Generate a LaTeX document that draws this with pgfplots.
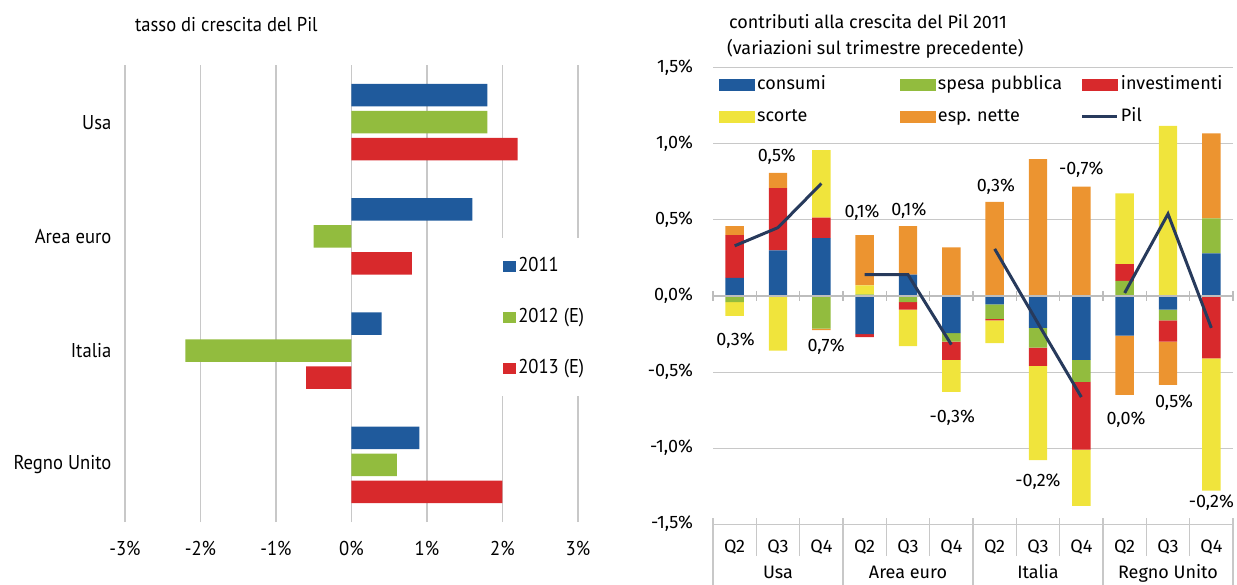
\documentclass[border=0pt]{standalone}
\usepackage{fontspec}
\setmainfont{Fira Sans}
\newfontfamily\condfont[FakeStretch=0.93]{PT Sans}
\usepackage{pgfplots}
\usepackage{pgfplotstable}
\pgfplotsset{compat=1.18}

\definecolor{cblue}{HTML}{1F5A9C}
\definecolor{cgreen}{HTML}{92BC3E}
\definecolor{cred}{HTML}{D8292C}
\definecolor{cyellow}{HTML}{F0E43C}
\definecolor{corange}{HTML}{EC9430}
\definecolor{cpil}{HTML}{273A5C}
\definecolor{cgrid}{HTML}{C8C8C8}
\definecolor{czero}{HTML}{BDBDBD}

\pgfplotstableread{
x cons spesa inv scorte esp
0  0      -0.04  0      -0.09  0
1  0      0      0      -0.36  0
2  0      -0.215 0      0      -0.01
3  -0.25  0      -0.02  0      0
4  0      -0.04  -0.05  -0.24  0
5  -0.245 -0.055 -0.12  -0.21  0
6  -0.055 -0.095 -0.01  -0.15  0
7  -0.21  -0.13  -0.12  -0.62  0
8  -0.42  -0.145 -0.445 -0.37  0
9  -0.26  0      0      0      -0.39
10 -0.09  -0.07  -0.14  0      -0.285
11 0      0      -0.41  -0.87  0
}\negdata

\pgfplotstableread{
x cons spesa inv scorte esp
0  0.12 0    0.28  0     0.06
1  0.30 0    0.41  0     0.10
2  0.38 0    0.135 0.445 0
3  0    0.01 0     0.06  0.33
4  0.14 0    0     0     0.32
5  0    0    0     0     0.32
6  0    0    0     0     0.62
7  0    0    0     0     0.90
8  0    0    0     0     0.72
9  0    0.10 0.11  0.465 0
10 0    0    0     1.12  0
11 0.28 0.23 0     0     0.56
}\posdata

\pgfplotsset{
  rbase/.style={at={(356.5pt,30pt)}, anchor=south west, scale only axis,
    width=260pt, height=228pt, xmin=-0.5, xmax=11.5, ymin=-1.5, ymax=1.5,
    axis line style={draw=none}, tick style={draw=none}, clip=false,
    font=\fontsize{9}{11}\selectfont},
}

\begin{document}
\begin{tikzpicture}
\path[use as bounding box] (0,0) rectangle (618.5pt,292pt);

% ---------------- left chart ----------------
\node[anchor=base west, font=\condfont\fontsize{10}{12}\selectfont] at (64pt,276pt) {tasso di crescita del Pil};

\begin{axis}[
  at={(62.5pt,31pt)}, anchor=south west, scale only axis,
  width=226.5pt, height=228.5pt,
  xmin=-3, xmax=3, ymin=-0.5, ymax=3.5,
  xbar, bar width=11.25pt,
  axis line style={draw=none}, tick style={draw=none},
  xmajorgrids, grid style={draw=cgrid, line width=0.6pt},
  xtick={-3,-2,-1,0,1,2,3},
  xticklabels={-3\%,-2\%,-1\%,0\%,1\%,2\%,3\%},
  ytick={0,1,2,3},
  yticklabels={Regno Unito,Italia,Area euro,Usa},
  xticklabel style={anchor=base, yshift=-16.5pt},
  yticklabel style={xshift=1pt},
  font=\condfont\fontsize{10}{12}\selectfont,
  legend cell align=left,
  legend style={at={(rel axis cs:0.821,0.6214)}, anchor=north west,
    fill=white, draw=none, inner xsep=3pt, inner ysep=8.5pt, row sep=14.5pt,
    font=\condfont\fontsize{10}{12}\selectfont,
    nodes={inner sep=1pt, text height=7pt, text depth=2pt}},
]
\addplot[fill=cblue, draw=none, bar shift=13.5pt,
  legend image code/.code={\fill[cblue] (0pt,-2.75pt) rectangle (6.5pt,2.75pt);}]
  coordinates {(1.8,3) (1.6,2) (0.4,1) (0.9,0)};
\addlegendentry{2011}
\addplot[fill=cgreen, draw=none, bar shift=0pt,
  legend image code/.code={\fill[cgreen] (0pt,-2.75pt) rectangle (6.5pt,2.75pt);}]
  coordinates {(1.8,3) (-0.5,2) (-2.2,1) (0.6,0)};
\addlegendentry{2012 (E)}
\addplot[fill=cred, draw=none, bar shift=-13.5pt,
  legend image code/.code={\fill[cred] (0pt,-2.75pt) rectangle (6.5pt,2.75pt);}]
  coordinates {(2.2,3) (0.8,2) (-0.6,1) (2.0,0)};
\addlegendentry{2013 (E)}
\end{axis}

% ---------------- right chart ----------------
\node[anchor=base west, font=\fontsize{9}{11}\selectfont] at (361pt,277.5pt) {contributi alla crescita del Pil 2011};
\node[anchor=base west, font=\fontsize{9}{11}\selectfont] at (360pt,264.5pt) {(variazioni sul trimestre precedente)};

% negative parts + grid + ticks
\begin{axis}[rbase, ybar stacked, bar width=9.2pt,
  ymajorgrids, grid style={draw=cgrid, line width=0.5pt},
  ytick={-1.5,-1,-0.5,0,0.5,1,1.5},
  yticklabels={{-1,5\%},{-1,0\%},{-0,5\%},{0,0\%},{0,5\%},{1,0\%},{1,5\%}},
  yticklabel style={xshift=-6.5pt},
  xtick={0,1,2,3,4,5,6,7,8,9,10,11},
  xticklabels={Q2,Q3,Q4,Q2,Q3,Q4,Q2,Q3,Q4,Q2,Q3,Q4},
  xticklabel style={anchor=base, yshift=-14pt},
]
\addplot[fill=cblue, draw=none] table[x=x, y=cons] {\negdata};
\addplot[fill=cgreen, draw=none] table[x=x, y=spesa] {\negdata};
\addplot[fill=cred, draw=none] table[x=x, y=inv] {\negdata};
\addplot[fill=cyellow, draw=none] table[x=x, y=scorte] {\negdata};
\addplot[fill=corange, draw=none] table[x=x, y=esp] {\negdata};
\end{axis}

% positive parts
\begin{axis}[rbase, ybar stacked, bar width=9.2pt, xtick=\empty, ytick=\empty]
\addplot[fill=cblue, draw=none] table[x=x, y=cons] {\posdata};
\addplot[fill=cgreen, draw=none] table[x=x, y=spesa] {\posdata};
\addplot[fill=cred, draw=none] table[x=x, y=inv] {\posdata};
\addplot[fill=cyellow, draw=none] table[x=x, y=scorte] {\posdata};
\addplot[fill=corange, draw=none] table[x=x, y=esp] {\posdata};
\end{axis}

% zero line, separators, Pil, labels, legend
\begin{axis}[rbase, xtick=\empty, ytick=\empty,
  legend columns=3, legend cell align=left,
  legend style={at={(rel axis cs:0.0115,0.989)}, anchor=north west,
    fill=none, draw=none, inner sep=0pt, row sep=5pt,
    font=\fontsize{9}{11}\selectfont,
    nodes={inner sep=1pt, text height=7pt, text depth=2pt, text width=70.5pt, align=left}},
]
\draw[czero, line width=1pt] (axis cs:-0.5,0) -- (axis cs:11.5,0);
\pgfplotsinvokeforeach{-0.5,0.5,1.5,2.5,3.5,4.5,5.5,6.5,7.5,8.5,9.5,10.5,11.5}{
  \draw[czero, line width=0.6pt] ([yshift=2.5pt]axis cs:#1,0) -- ([yshift=-2.5pt]axis cs:#1,0);
}
\pgfplotsinvokeforeach{0.5,1.5,3.5,4.5,6.5,7.5,9.5,10.5}{
  \draw[cgrid, line width=0.6pt] ([yshift=3pt]axis cs:#1,-1.5) -- ([yshift=-16pt]axis cs:#1,-1.5);
}
\pgfplotsinvokeforeach{-0.5,2.5,5.5,8.5,11.5}{
  \draw[cgrid, line width=0.6pt] ([yshift=3pt]axis cs:#1,-1.5) -- ([yshift=-32pt]axis cs:#1,-1.5);
}

\addlegendimage{legend image code/.code={\fill[cblue] (0pt,-2.75pt) rectangle (17.5pt,2.75pt);}}
\addlegendentry{consumi}
\addlegendimage{legend image code/.code={\fill[cgreen] (0pt,-2.75pt) rectangle (17.5pt,2.75pt);}}
\addlegendentry{spesa pubblica}
\addlegendimage{legend image code/.code={\fill[cred] (0pt,-2.75pt) rectangle (17.5pt,2.75pt);}}
\addlegendentry{investimenti}
\addlegendimage{legend image code/.code={\fill[cyellow] (0pt,-2.75pt) rectangle (17.5pt,2.75pt);}}
\addlegendentry{scorte}
\addlegendimage{legend image code/.code={\fill[corange] (0pt,-2.75pt) rectangle (17.5pt,2.75pt);}}
\addlegendentry{esp.\ nette}

\addplot[cpil, line width=1.5pt, mark=none,
  legend image code/.code={\draw[cpil, line width=1.5pt] (0pt,0pt) -- (17.5pt,0pt);}]
  coordinates {(0,0.33) (1,0.45) (2,0.74)};
\addlegendentry{Pil}
\addplot[cpil, line width=1.5pt, mark=none, forget plot] coordinates {(3,0.14) (4,0.14) (5,-0.32)};
\addplot[cpil, line width=1.5pt, mark=none, forget plot] coordinates {(6,0.31) (7,-0.18) (8,-0.665)};
\addplot[cpil, line width=1.5pt, mark=none, forget plot] coordinates {(9,0.02) (10,0.54) (11,-0.21)};

\node at (axis cs:0.02,-0.294) {0,3\%};
\node at (axis cs:0.97,0.916) {0,5\%};
\node at (axis cs:2.11,-0.33) {0,7\%};
\node at (axis cs:2.94,0.546) {0,1\%};
\node at (axis cs:4.02,0.56) {0,1\%};
\node at (axis cs:5.02,-0.80) {-0,3\%};
\node at (axis cs:6.03,0.72) {0,3\%};
\node at (axis cs:7.0,-1.22) {-0,2\%};
\node at (axis cs:8.0,0.83) {-0,7\%};
\node at (axis cs:9.03,-0.816) {0,0\%};
\node at (axis cs:10.14,-0.70) {0,5\%};
\node at (axis cs:11.0,-1.36) {-0,2\%};

\node[anchor=base] at ([yshift=-27.3pt]axis cs:1,-1.5) {Usa};
\node[anchor=base] at ([yshift=-27.3pt]axis cs:4,-1.5) {Area euro};
\node[anchor=base] at ([yshift=-27.3pt]axis cs:7,-1.5) {Italia};
\node[anchor=base] at ([yshift=-27.3pt]axis cs:10,-1.5) {Regno Unito};
\end{axis}
\end{tikzpicture}
\end{document}
